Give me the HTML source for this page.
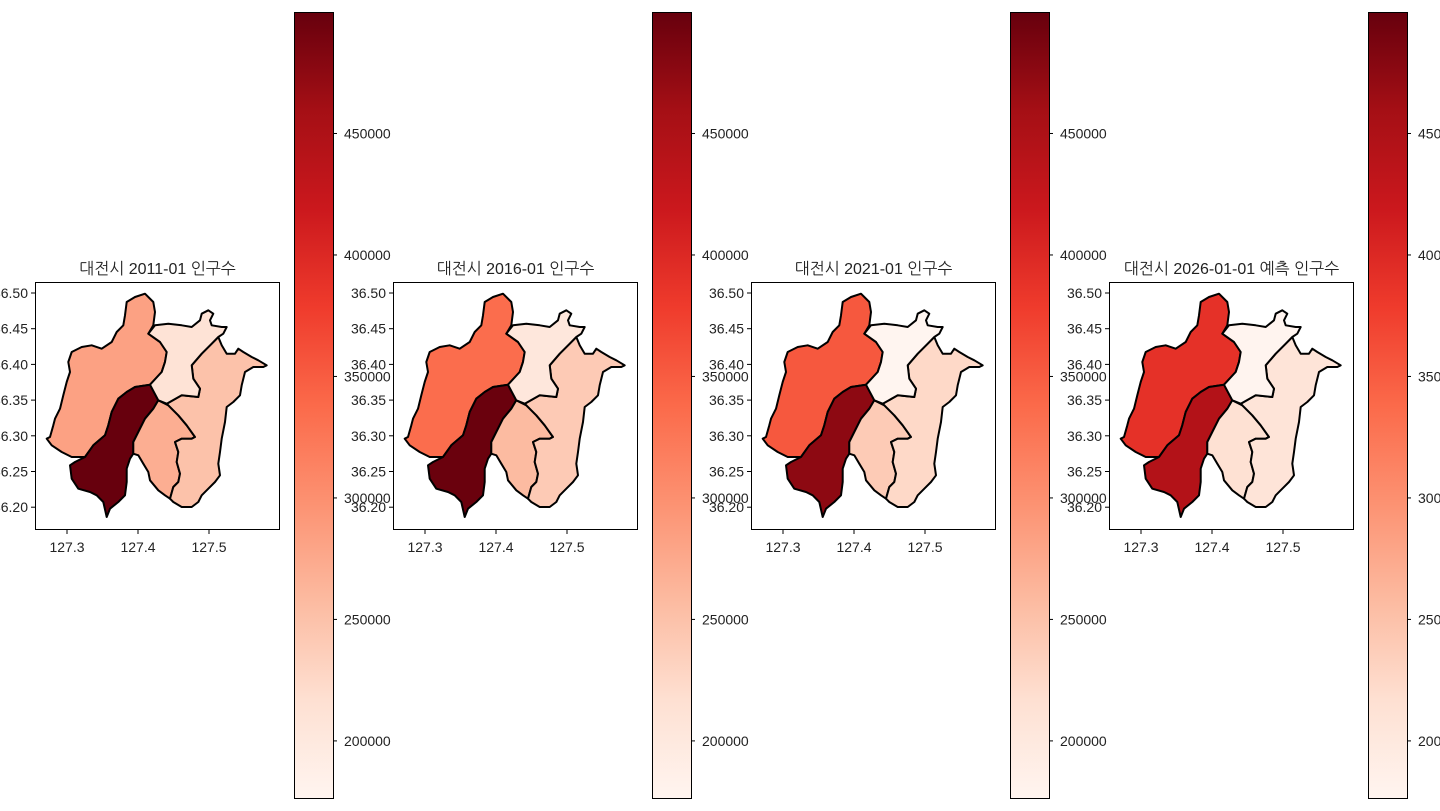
<!DOCTYPE html>
<html><head><meta charset="utf-8">
<style>
html,body{margin:0;padding:0;background:#fff;}
svg{display:block;font-family:"Liberation Sans","NanumGothic","Noto Sans CJK KR",sans-serif;}
</style></head>
<body>
<svg id="fig" width="1440" height="811" viewBox="0 0 1440 811" xmlns="http://www.w3.org/2000/svg">
<defs>
<linearGradient id="reds" x1="0" y1="1" x2="0" y2="0">
<stop offset="0" stop-color="#fff5f0"/><stop offset="0.125" stop-color="#fee0d2"/>
<stop offset="0.25" stop-color="#fcbba1"/><stop offset="0.375" stop-color="#fc9272"/>
<stop offset="0.5" stop-color="#fb6a4a"/><stop offset="0.625" stop-color="#ef3b2c"/>
<stop offset="0.75" stop-color="#cb181d"/><stop offset="0.875" stop-color="#a50f15"/>
<stop offset="1" stop-color="#67000d"/>
</linearGradient>
</defs>
</svg>
<script>
// ---- data ----
const titles = ["대전시 2011-01 인구수","대전시 2016-01 인구수","대전시 2021-01 인구수","대전시 2026-01-01 예측 인구수"];
const districts = ["유성구","서구","중구","동구","대덕구"];
const pop2011 = [283000, 500000, 270000, 250000, 212000];
const pop2016 = [335000, 498000, 257000, 241000, 203000];
const pop2021 = [354000, 475000, 240000, 225000, 176500];
const pop2026 = [390000, 445000, 215000, 209000, 178000];
const series = [pop2011, pop2016, pop2021, pop2026];
const vmin = 176500, vmax = 500000;
const cbarTicks = [200000, 250000, 300000, 350000, 400000, 450000];
const lonTicks = [127.3, 127.4, 127.5];
const latTicks = [36.20, 36.25, 36.30, 36.35, 36.40, 36.45, 36.50];

// district boundary geometry (shape units)
const geom = [
 [[345,308],[380,270],[390,240],[395,210],[375,180],[340,155],[355,130],[360,90],[355,60],[330,35],[300,45],[275,60],[270,100],[265,130],[245,150],[230,180],[200,200],[170,190],[140,195],[110,210],[100,240],[105,270],[95,300],[85,340],[75,380],[60,410],[55,430],[45,465],[35,470],[50,490],[80,510],[110,525],[150,525],[175,490],[210,460],[220,430],[230,390],[250,350],[275,330],[300,315]],
 [[345,308],[370,355],[355,380],[330,410],[310,450],[295,480],[295,515],[285,530],[275,560],[275,600],[270,640],[250,660],[225,680],[215,705],[205,660],[185,640],[165,630],[130,620],[110,590],[105,550],[120,540],[150,525],[175,490],[210,460],[220,430],[230,390],[250,350],[275,330],[300,315]],
 [[370,355],[400,370],[430,400],[455,430],[480,465],[470,470],[440,470],[420,480],[430,510],[425,540],[435,575],[430,600],[415,615],[405,650],[390,640],[370,625],[345,595],[340,570],[325,545],[310,520],[295,515],[295,480],[310,450],[330,410],[355,380]],
 [[395,365],[440,340],[490,345],[495,320],[475,290],[470,250],[500,215],[530,185],[550,165],[560,190],[575,215],[600,215],[610,200],[625,210],[650,225],[670,235],[695,250],[685,255],[655,255],[630,270],[620,310],[615,340],[595,360],[575,375],[570,420],[560,470],[555,510],[550,545],[555,580],[540,600],[520,620],[500,640],[490,660],[470,675],[440,675],[415,660],[405,650],[415,615],[430,600],[435,575],[425,540],[430,510],[420,480],[440,470],[470,470],[480,465],[455,430],[430,400]],
 [[345,308],[380,270],[390,240],[395,210],[375,180],[340,155],[360,130],[400,125],[440,130],[470,135],[495,115],[500,95],[520,85],[535,95],[525,115],[530,130],[560,135],[575,135],[565,155],[550,165],[530,185],[500,215],[470,250],[475,290],[495,320],[490,345],[440,340],[395,365],[370,355]]
];

// ---- colormap ----
const stops = ["#fff5f0","#fee0d2","#fcbba1","#fc9272","#fb6a4a","#ef3b2c","#cb181d","#a50f15","#67000d"].map(h=>[parseInt(h.slice(1,3),16),parseInt(h.slice(3,5),16),parseInt(h.slice(5,7),16)]);
function reds(v){
  let t=Math.max(0,Math.min(1,(v-vmin)/(vmax-vmin)))*8;
  let i=Math.min(7,Math.floor(t)), f=t-i;
  const c=stops[i].map((a,k)=>Math.round(a+(stops[i+1][k]-a)*f));
  return `rgb(${c[0]},${c[1]},${c[2]})`;
}
const NS="http://www.w3.org/2000/svg";
const svg=document.getElementById('fig');
function mk(tag,attrs,parent){const e=document.createElementNS(NS,tag);for(const k in attrs)e.setAttribute(k,attrs[k]);(parent||svg).appendChild(e);return e;}

const AX_Y=282, AX_W=245, AX_H=248, STEP=358;
const CB_Y=12, CB_H=786, CB_W=39;
series.forEach((vals,p)=>{
  const ax0=35+p*STEP, cb0=294+p*STEP;
  const g=mk('g',{});
  
  
  const xLon=lon=>ax0+32+(lon-127.3)*710;
  const yLat=lat=>AX_Y+11+(36.5-lat)*714;
  const gx=u=>ax0+u/3, gy=v=>AX_Y+v/3;
  geom.forEach((poly,d)=>{
    const path=mk('polygon',{points:poly.map(q=>gx(q[0]).toFixed(1)+','+gy(q[1]).toFixed(1)).join(' '),fill:reds(vals[d]),stroke:'#000','stroke-width':2,'stroke-linejoin':'round'},g);
    
    
  });
  const fr=mk('rect',{x:ax0+0.5,y:AX_Y+0.5,width:AX_W-1,height:AX_H-1,fill:'none',stroke:'#000','stroke-width':1},g);
  
  
  const t=mk('text',{x:ax0+AX_W/2,y:274,'text-anchor':'middle','font-size':16,fill:'#222'},g);
  t.textContent=titles[p];
  
  
  lonTicks.forEach(lo=>{
    const x=xLon(lo);
    mk('line',{x1:x,x2:x,y1:AX_Y+AX_H,y2:AX_Y+AX_H+4,stroke:'#000'},g);
    const l=mk('text',{x:x,y:AX_Y+AX_H+22,'text-anchor':'middle','font-size':14,fill:'#222'},g);
    l.textContent=lo.toFixed(1);
    
    
  });
  latTicks.forEach(la=>{
    const y=yLat(la);
    mk('line',{x1:ax0,x2:ax0-4,y1:y,y2:y,stroke:'#000'},g);
    const l=mk('text',{x:ax0-7,y:y+5,'text-anchor':'end','font-size':14,fill:'#222'},g);
    l.textContent=la.toFixed(2);
    
    
  });
  const cb=mk('rect',{x:cb0+0.5,y:CB_Y+0.5,width:CB_W,height:CB_H,fill:'url(#reds)',stroke:'#000','stroke-width':1},g);
  
  
  const yCb=v=>CB_Y+CB_H-(v-vmin)/(vmax-vmin)*CB_H;
  cbarTicks.forEach(v=>{
    const y=yCb(v);
    mk('line',{x1:cb0+CB_W,x2:cb0+CB_W+4,y1:y,y2:y,stroke:'#000'},g);
    const l=mk('text',{x:cb0+CB_W+11,y:y+5,'font-size':14,fill:'#222'},g);
    l.textContent=String(v);
    
    
  });
});
</script>
</body></html>
